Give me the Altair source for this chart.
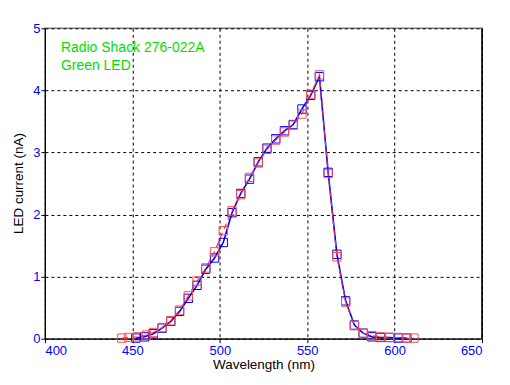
import altair as alt
import pandas as pd

red_wl = [444, 448, 453, 458, 462, 467, 472, 477, 482, 487, 492, 497, 502, 507, 512,
          517, 522, 527, 532, 537, 542, 547, 552, 557, 562, 567, 572, 577, 582, 587,
          592, 597, 602, 607, 611]
red_val = [0.01, 0.02, 0.03, 0.06, 0.10, 0.18, 0.29, 0.46, 0.69, 0.93, 1.14, 1.40, 1.74, 2.06, 2.32,
           2.60, 2.83, 3.05, 3.20, 3.33, 3.44, 3.62, 3.94, 4.25, 2.66, 1.32, 0.59, 0.21, 0.09, 0.05,
           0.03, 0.02, 0.02, 0.01, 0.01]

blue_wl = [452, 457, 462, 467, 472, 477, 482, 487, 492, 497, 502, 507, 512, 517, 522,
           527, 532, 537, 542, 547, 552, 557, 562, 567, 572, 577, 582, 587, 592, 597,
           602, 607]
blue_val = [0.01, 0.03, 0.08, 0.17, 0.28, 0.44, 0.65, 0.86, 1.12, 1.30, 1.55, 2.03, 2.34, 2.57, 2.85,
            3.07, 3.22, 3.35, 3.45, 3.70, 3.92, 4.22, 2.68, 1.36, 0.61, 0.22, 0.09, 0.03, 0.02, 0.02,
            0.01, 0.01]

x_ticks = [400, 450, 500, 550, 600, 650]
y_ticks = [0, 1, 2, 3, 4, 5]
annotation_lines = ["Radio Shack 276-022A", "Green LED"]

red_df = pd.DataFrame({"wl": red_wl, "val": red_val})
blue_df = pd.DataFrame({"wl": blue_wl, "val": blue_val})

FONT = "Liberation Sans"

xscale = alt.Scale(domain=[400, 650], nice=False, zero=False)
yscale = alt.Scale(domain=[0, 5], nice=False)

xaxis = alt.Axis(values=x_ticks, title="Wavelength (nm)", grid=True, gridDash=[3, 3],
                 gridColor="black", gridWidth=1, gridOpacity=1, domainColor="black",
                 tickColor="black", tickSize=4, labelColor="#0000ff", labelFont=FONT,
                 labelFontSize=13, labelPadding=2, titleFont=FONT, titleFontSize=13.5,
                 titleFontWeight="normal", titleColor="black", titleY=30,
                 titleBaseline="alphabetic", format="d")
yaxis = alt.Axis(values=y_ticks, title="LED current (nA)", grid=True, gridDash=[3, 3],
                 gridColor="black", gridWidth=1, gridOpacity=1, domainColor="black",
                 tickColor="black", tickSize=4, labelColor="#0000ff", labelFont=FONT,
                 labelFontSize=13, labelPadding=1, titleFont=FONT, titleFontSize=13.5,
                 titleFontWeight="normal", titleColor="black", titleX=-19, titleY=155,
                 titleAngle=-90, titleAlign="center", titleBaseline="bottom", format="d")

X = alt.X("wl:Q", scale=xscale, axis=xaxis)
Y = alt.Y("val:Q", scale=yscale, axis=yaxis)

blue_line = alt.Chart(blue_df).mark_line(color="#0000ff", strokeWidth=1.6).encode(x=X, y=Y)
blue_pts = alt.Chart(blue_df).mark_point(shape="square", filled=False, color="#0000ff",
                                         size=70, strokeWidth=1, opacity=1).encode(x=X, y=Y)
red_line = alt.Chart(red_df).mark_line(color="#ff3030", strokeWidth=1.1,
                                       strokeDash=[6, 4]).encode(x=X, y=Y)
red_pts = alt.Chart(red_df).mark_point(shape="square", filled=False, color="#ff5050",
                                       size=70, strokeWidth=1, opacity=1).encode(x=X, y=Y)

right_border = alt.Chart(pd.DataFrame({"wl": [650]})).mark_rule(color="black", strokeWidth=1.5).encode(
    x=X, y=alt.value(0), y2=alt.value(311))

ann1 = alt.Chart(pd.DataFrame({"t": [annotation_lines[0]]})).mark_text(
    align="left", baseline="alphabetic", font=FONT, fontSize=14, color="#00e000"
).encode(text="t:N", x=alt.value(16), y=alt.value(24))
ann2 = alt.Chart(pd.DataFrame({"t": [annotation_lines[1]]})).mark_text(
    align="left", baseline="alphabetic", font=FONT, fontSize=14, color="#00e000"
).encode(text="t:N", x=alt.value(16), y=alt.value(42))

chart = alt.layer(blue_line, right_border, blue_pts, red_pts, red_line, ann1, ann2).properties(
    width=438, height=311,
    autosize=alt.AutoSizeParams(type="none"),
    padding={"left": 37, "top": 20, "right": 20, "bottom": 40},
    background="white",
).configure_view(stroke="#808080", strokeWidth=1.5)

chart.save("out.html", embed_options={"renderer": "svg", "actions": False})
